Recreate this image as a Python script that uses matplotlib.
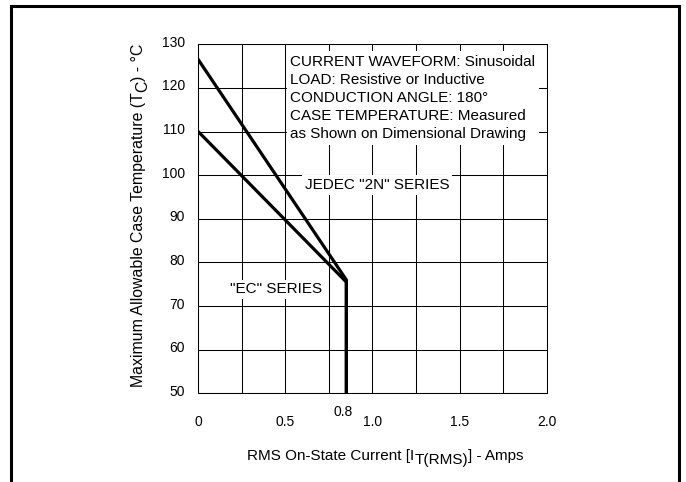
import matplotlib
matplotlib.use("Agg")
from matplotlib import pyplot as plt
from matplotlib.lines import Line2D
from matplotlib.transforms import ScaledTranslation

plt.rcParams['font.family'] = ['Liberation Sans', 'DejaVu Sans']

# curve data
jedec_x = [0.0, 0.85, 0.85]
jedec_y = [126.5, 76.0, 50.0]
ec_x = [0.0, 0.85, 0.85]
ec_y = [110.0, 75.5, 50.0]

x_ticks = [0, 0.5, 1.0, 1.5, 2.0]
x_tick_labels = ["0", "0.5", "1.0", "1.5", "2.0"]
x_grid = [0.25, 0.75, 1.25, 1.75]
y_ticks = [50, 60, 70, 80, 90, 100, 110, 120, 130]

note = ("CURRENT WAVEFORM: Sinusoidal\n"
        "LOAD: Resistive or Inductive\n"
        "CONDUCTION ANGLE: 180\u00b0\n"
        "CASE TEMPERATURE: Measured\n"
        "as Shown on Dimensional Drawing")

W, H = 686, 482
fig = plt.figure(figsize=(W / 100, H / 100), dpi=100)
ax = fig.add_axes([0.289, 0.184, 0.508, 0.724])

ax.set_xlim(0, 2.0)
ax.set_ylim(50, 130)
ax.set_xticks(x_ticks)
ax.set_xticklabels(x_tick_labels)
ax.set_xticks(x_grid, minor=True)
ax.set_yticks(y_ticks)
ax.tick_params(which="both", length=0, labelsize=10)
ax.tick_params(axis="x", pad=15.5)
ax.tick_params(axis="y", pad=9.5)
ax.grid(True, which="both", color="black", linewidth=0.75)
for s in ax.spines.values():
    s.set_linewidth(0.75)
ax.set_axisbelow(True)
# y tick labels sit a little above their grid lines
for lab in ax.get_yticklabels():
    lab.set_transform(lab.get_transform() + ScaledTranslation(0, 0.03, fig.dpi_scale_trans))

ax.plot(jedec_x, jedec_y, color="black", linewidth=2.3, zorder=3)
ax.plot(ec_x, ec_y, color="black", linewidth=2.3, zorder=3)

ax.text(0.527, 127.6, note, fontsize=11, va="top", ha="left",
        linespacing=1.37, zorder=4,
        bbox=dict(facecolor="white", edgecolor="none", pad=2.5))
ax.text(0.613, 97.8, 'JEDEC "2N" SERIES', fontsize=11, va="center", ha="left",
        zorder=4, bbox=dict(facecolor="white", edgecolor="none", pad=2))
ax.text(0.182, 73.8, '"EC" SERIES', fontsize=11, va="center", ha="left",
        zorder=4, bbox=dict(facecolor="white", edgecolor="none", pad=2))
ax.text(0.83, 45.8, "0.8", fontsize=10, va="center", ha="center",
        clip_on=False)

# x label, subscript drawn at full size and dropped
xb = 1 - 460 / H
t1 = fig.text(247 / W, xb, "RMS On-State Current [I", fontsize=11,
              ha="left", va="baseline")
t2 = ax.annotate("T(RMS)", xy=(1, xb - 4 / H), xycoords=(t1, "figure fraction"),
                 fontsize=11, ha="left", va="baseline")
ax.annotate("] - Amps", xy=(1, xb), xycoords=(t2, "figure fraction"),
            fontsize=11, ha="left", va="baseline")

# y label, rotated, same trick for the C subscript
yb = 143 / W
y1 = fig.text(yb, 1 - 387 / H, "Maximum Allowable Case Temperature (T",
              fontsize=11.4, rotation=90, rotation_mode="anchor",
              ha="left", va="baseline")
y2 = ax.annotate("C", xy=(yb + 4 / W, 1), xycoords=("figure fraction", y1),
                 fontsize=11.4, rotation=90, rotation_mode="anchor",
                 ha="left", va="baseline")
ax.annotate(") - \u00b0C", xy=(yb, 1), xycoords=("figure fraction", y2),
            fontsize=11.4, rotation=90, rotation_mode="anchor",
            ha="left", va="baseline")

# outer frame
fig.add_artist(Line2D([0.016, 0.016], [0.0, 0.9876], color="black", linewidth=2.2))
fig.add_artist(Line2D([0.990, 0.990], [0.0, 0.9876], color="black", linewidth=2.2))
fig.add_artist(Line2D([0.016, 0.990], [0.9876, 0.9876], color="black", linewidth=2.2))

fig.savefig("out.png", dpi=100)
